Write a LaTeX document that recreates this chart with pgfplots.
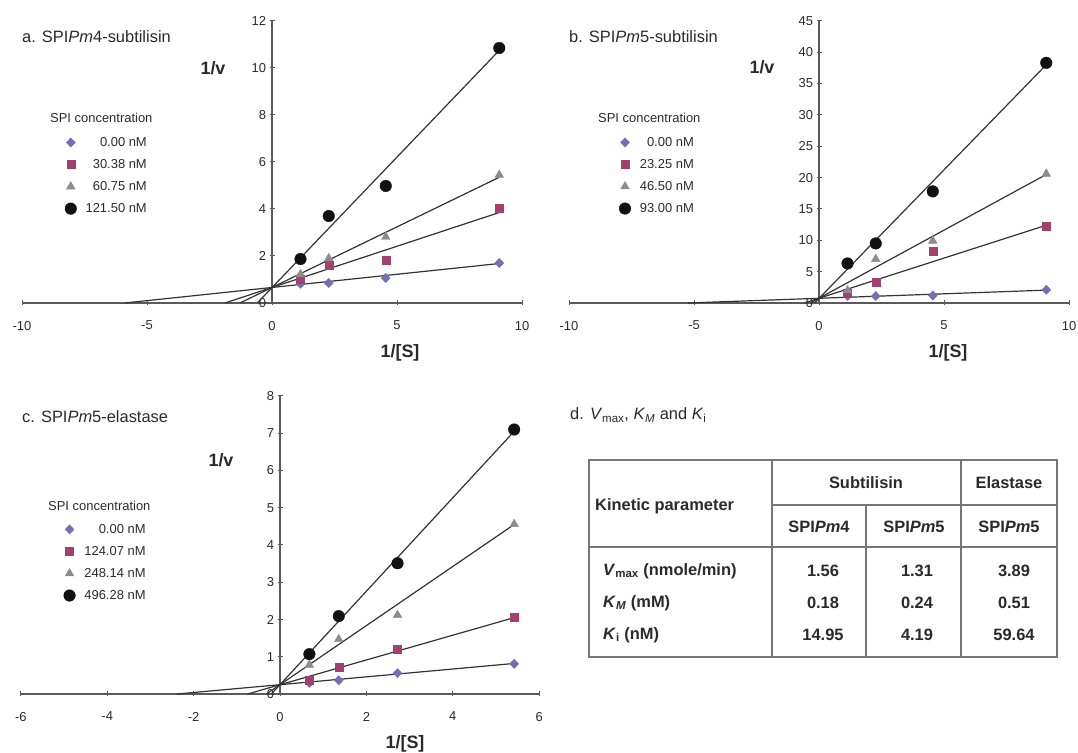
\documentclass[border=0pt]{standalone}
\usepackage{fontspec}
\setmainfont{Liberation Sans}
\usepackage{pgfplots}
\pgfplotsset{compat=1.18}
\definecolor{txt}{HTML}{2A2A2A}
\definecolor{axc}{HTML}{5A5A5A}
\definecolor{cdia}{HTML}{7070B8}
\definecolor{csq}{HTML}{A3406E}
\definecolor{ctri}{HTML}{8C8C8C}
\definecolor{ccir}{HTML}{111111}
\definecolor{tbl}{HTML}{777777}
\pgfplotsset{
  lbplot/.style={
    axis lines=middle,
    anchor=origin,
    clip=false,
    axis line style={axc, line width=1.2bp, -},
    tick style={axc, line width=1bp},
    major tick length=5bp,
    hide obscured x ticks=false,
    hide obscured y ticks=false,
    ticklabel style={font=\fontsize{13}{15}\selectfont, text=txt},
    xticklabel style={yshift=-12bp},
    /pgf/number format/assume math mode=true,
    legend style={draw=none, fill=none, font=\fontsize{13}{15}\selectfont, text=txt,
      row sep=9.5bp, column sep=8bp, anchor=north east, inner sep=0pt,
      nodes={inner sep=1bp}},
    legend cell align=right,
  },
  dia/.style={only marks, mark=diamond*, mark size=4.6bp, mark options={xscale=1.3}, color=cdia},
  sq/.style={only marks, mark=square*, mark size=4bp, color=csq},
  tri/.style={only marks, mark=triangle*, mark size=5bp, color=ctri},
  cir/.style={only marks, mark=*, mark size=5.8bp, color=ccir},
  fit/.style={no marks, line width=1.2bp, color=black!80, forget plot},
}
\begin{document}
\begin{tikzpicture}[x=1bp,y=1bp]
\useasboundingbox (0,0) rectangle (1078,753);
% ---------------- panel a ----------------
\begin{axis}[lbplot, at={(272bp,450bp)}, x=25bp, y=23.5bp,
  xmin=-10, xmax=10, ymin=0, ymax=12,
  xtick={-10,-5,0,5,10}, ytick={0,2,4,6,8,10,12},
  legend style={at={(axis description cs:0.252,0.592)}}]
\addplot[dia] coordinates {(1.14,0.82) (2.27,0.85) (4.55,1.06) (9.09,1.70)};
\addlegendentry{0.00 nM}
\addplot[sq] coordinates {(1.14,1.00) (2.27,1.62) (4.55,1.83) (9.09,4.04)};
\addlegendentry{30.38 nM}
\addplot[tri] coordinates {(1.14,1.22) (2.27,1.90) (4.55,2.81) (9.09,5.45)};
\addlegendentry{60.75 nM}
\addplot[cir] coordinates {(1.14,1.87) (2.27,3.70) (4.55,4.98) (9.09,10.85)};
\addlegendentry{121.50 nM}
\addplot[fit] coordinates {(-5.89,0) (9.09,1.68)};
\addplot[fit] coordinates {(-1.88,0) (9.09,3.85)};
\addplot[fit] coordinates {(-1.28,0) (9.09,5.35)};
\addplot[fit] coordinates {(-0.59,0) (9.09,10.75)};
\end{axis}
% ---------------- panel b ----------------
\begin{axis}[lbplot, at={(819bp,450bp)}, x=25bp, y=6.27bp,
  xmin=-10, xmax=10, ymin=0, ymax=45,
  xtick={-10,-5,0,5,10}, ytick={0,5,...,45},
  legend style={at={(axis description cs:0.252,0.592)}}]
\addplot[dia] coordinates {(1.14,1.1) (2.27,1.1) (4.55,1.2) (9.09,2.1)};
\addlegendentry{0.00 nM}
\addplot[sq] coordinates {(1.14,1.5) (2.27,3.3) (4.55,8.3) (9.09,12.3)};
\addlegendentry{23.25 nM}
\addplot[tri] coordinates {(1.14,2.0) (2.27,7.0) (4.55,9.9) (9.09,20.6)};
\addlegendentry{46.50 nM}
\addplot[cir] coordinates {(1.14,6.3) (2.27,9.5) (4.55,17.8) (9.09,38.3)};
\addlegendentry{93.00 nM}
\addplot[fit] coordinates {(-5.24,0) (9.09,2.05)};
\addplot[fit] coordinates {(-0.59,0) (9.09,12.4)};
\addplot[fit] coordinates {(-0.35,0) (9.09,20.5)};
\addplot[fit] coordinates {(-0.18,0) (9.09,38.0)};
\end{axis}
% ---------------- panel c ----------------
\begin{axis}[lbplot, at={(280bp,59bp)}, x=43.2bp, y=37.25bp,
  xmin=-6, xmax=6, ymin=0, ymax=8,
  xtick={-6,-4,-2,0,2,4,6}, ytick={0,1,...,8},
  legend style={at={(axis description cs:0.243,0.574)}}]
\addplot[dia] coordinates {(0.68,0.30) (1.36,0.37) (2.72,0.56) (5.42,0.81)};
\addlegendentry{0.00 nM}
\addplot[sq] coordinates {(0.68,0.36) (1.36,0.72) (2.72,1.20) (5.42,2.06)};
\addlegendentry{124.07 nM}
\addplot[tri] coordinates {(0.68,0.78) (1.36,1.47) (2.72,2.12) (5.42,4.56)};
\addlegendentry{248.14 nM}
\addplot[cir] coordinates {(0.68,1.07) (1.36,2.09) (2.72,3.51) (5.42,7.10)};
\addlegendentry{496.28 nM}
\addplot[fit] coordinates {(-2.38,0) (5.42,0.82)};
\addplot[fit] coordinates {(-0.75,0) (5.42,2.05)};
\addplot[fit] coordinates {(-0.315,0) (5.42,4.55)};
\addplot[fit] coordinates {(-0.20,0) (5.42,7.05)};
\end{axis}
% ---------------- labels ----------------
\begin{scope}[every node/.style={text=txt, inner sep=0pt}]
\node[anchor=west, font=\fontsize{16.5}{18}\selectfont] at (22,716) {a. SPI\textit{Pm}4-subtilisin};
\node[anchor=west, font=\fontsize{16.5}{18}\selectfont] at (569,716) {b. SPI\textit{Pm}5-subtilisin};
\node[anchor=west, font=\fontsize{16.5}{18}\selectfont] at (22,336) {c. SPI\textit{Pm}5-elastase};
\node[anchor=west, font=\fontsize{16.5}{18}\selectfont] at (570,338) {d. \textit{V}\textsubscript{max}, \textit{K}\textsubscript{\textit{M}} and \textit{K}\textsubscript{i}};
\node[font=\bfseries\fontsize{18}{20}\selectfont] at (213,685) {1/v};
\node[font=\bfseries\fontsize{18}{20}\selectfont] at (762,686) {1/v};
\node[font=\bfseries\fontsize{18}{20}\selectfont] at (221,293) {1/v};
\node[font=\bfseries\fontsize{18}{20}\selectfont] at (400,400) {1/[S]};
\node[font=\bfseries\fontsize{18}{20}\selectfont] at (948,400) {1/[S]};
\node[font=\bfseries\fontsize{18}{20}\selectfont] at (405,9) {1/[S]};
\node[anchor=west, font=\fontsize{13}{15}\selectfont] at (50,635) {SPI concentration};
\node[anchor=west, font=\fontsize{13}{15}\selectfont] at (598,635) {SPI concentration};
\node[anchor=west, font=\fontsize{13}{15}\selectfont] at (48,247) {SPI concentration};
% table
\draw[tbl, line width=1.4bp] (589,96) rectangle (1057,293);
\draw[tbl, line width=1.4bp] (772,96) -- (772,293);
\draw[tbl, line width=1.4bp] (961,96) -- (961,293);
\draw[tbl, line width=1.4bp] (866,96) -- (866,248);
\draw[tbl, line width=1.4bp] (772,248) -- (1057,248);
\draw[tbl, line width=1.4bp] (589,206) -- (1057,206);
\begin{scope}[every node/.append style={font=\bfseries\fontsize{16.5}{18}\selectfont}]
\node[anchor=west] at (595,247) {Kinetic parameter};
\node at (866,270) {Subtilisin};
\node at (1009,270) {Elastase};
\node at (819,226) {SPI\textit{Pm}4};
\node at (914,226) {SPI\textit{Pm}5};
\node at (1009,226) {SPI\textit{Pm}5};
\node[anchor=west] at (603,182) {\textit{V}\textsubscript{max} (nmole/min)};
\node[anchor=west] at (603,150) {\textit{K}\textsubscript{\textit{M}} (mM)};
\node[anchor=west] at (603,118) {\textit{K}\textsubscript{i} (nM)};
\node at (823,182) {1.56}; \node at (917,182) {1.31}; \node at (1014,182) {3.89};
\node at (823,150) {0.18}; \node at (917,150) {0.24}; \node at (1014,150) {0.51};
\node at (823,118) {14.95}; \node at (917,118) {4.19}; \node at (1014,118) {59.64};
\end{scope}
\end{scope}
\end{tikzpicture}
\end{document}
